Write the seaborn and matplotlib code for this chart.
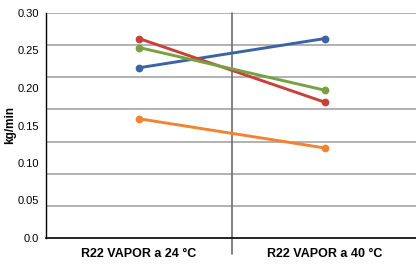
import pandas as pd
import numpy as np
import matplotlib
matplotlib.use("Agg")
import matplotlib.pyplot as plt
import seaborn as sns

# Data
conditions = ["R22 VAPOR a 24 °C", "R22 VAPOR a 40 °C"]
series = ["A", "B", "C", "D"]
blue_vals = [0.227, 0.266]
red_vals = [0.266, 0.181]
green_vals = [0.254, 0.197]
orange_vals = [0.159, 0.120]
colors = ["#3b64a4", "#c9403a", "#78a142", "#f28330"]
y_ticks = [0.0, 0.05, 0.10, 0.15, 0.20, 0.25, 0.30]
y_tick_labels = ["0.0", "0.05", "0.10", "0.15", "0.20", "0.25", "0.30"]

df = pd.DataFrame({
    "condition": conditions * 4,
    "series": np.repeat(series, 2),
    "value": blue_vals + red_vals + green_vals + orange_vals,
})

sns.set_style("white")
plt.rcParams["font.family"] = ["Liberation Sans", "DejaVu Sans"]

fig = plt.figure(figsize=(4.16, 2.72), dpi=100)
ax = fig.add_axes([46 / 416, 34 / 272, 372 / 416, 225 / 272])

# gridlines (the original uses 7 even bands, not aligned with labels)
for k in range(1, 8):
    ax.axhline(0.30 * k / 7, color="#ababab", linewidth=1.3, zorder=0)

# category separator, extending below the axis
ax.plot([0.5, 0.5], [-0.072, 1.0], color="#6e6e6e", linewidth=1.2,
        transform=ax.get_xaxis_transform(), clip_on=False, zorder=1)

sns.pointplot(data=df, x="condition", y="value", hue="series", palette=colors,
              markers="o", markersize=4, linewidth=2.1, errorbar=None,
              legend=False, ax=ax, zorder=3)

ax.set_xlim(-0.5, 1.5)
ax.set_ylim(0, 0.30)
ax.set_yticks(y_ticks)
ax.set_yticklabels(y_tick_labels, fontsize=8, color="black")
ax.tick_params(axis="both", length=0)
ax.tick_params(axis="y", pad=5)
ax.tick_params(axis="x", pad=7)
for lab in ax.get_xticklabels():
    lab.set_fontsize(9)
    lab.set_fontweight("bold")
    lab.set_color("black")
ax.set_xlabel("")
ax.set_ylabel("kg/min", fontsize=8.5, fontweight="bold", color="black")
ax.yaxis.set_label_coords(-0.079, 0.5)

for s in ["top", "right"]:
    ax.spines[s].set_visible(False)
ax.spines["left"].set_color("black")
ax.spines["left"].set_linewidth(1.0)
ax.spines["bottom"].set_color("black")
ax.spines["bottom"].set_linewidth(1.2)

fig.savefig("out.png", dpi=100)
